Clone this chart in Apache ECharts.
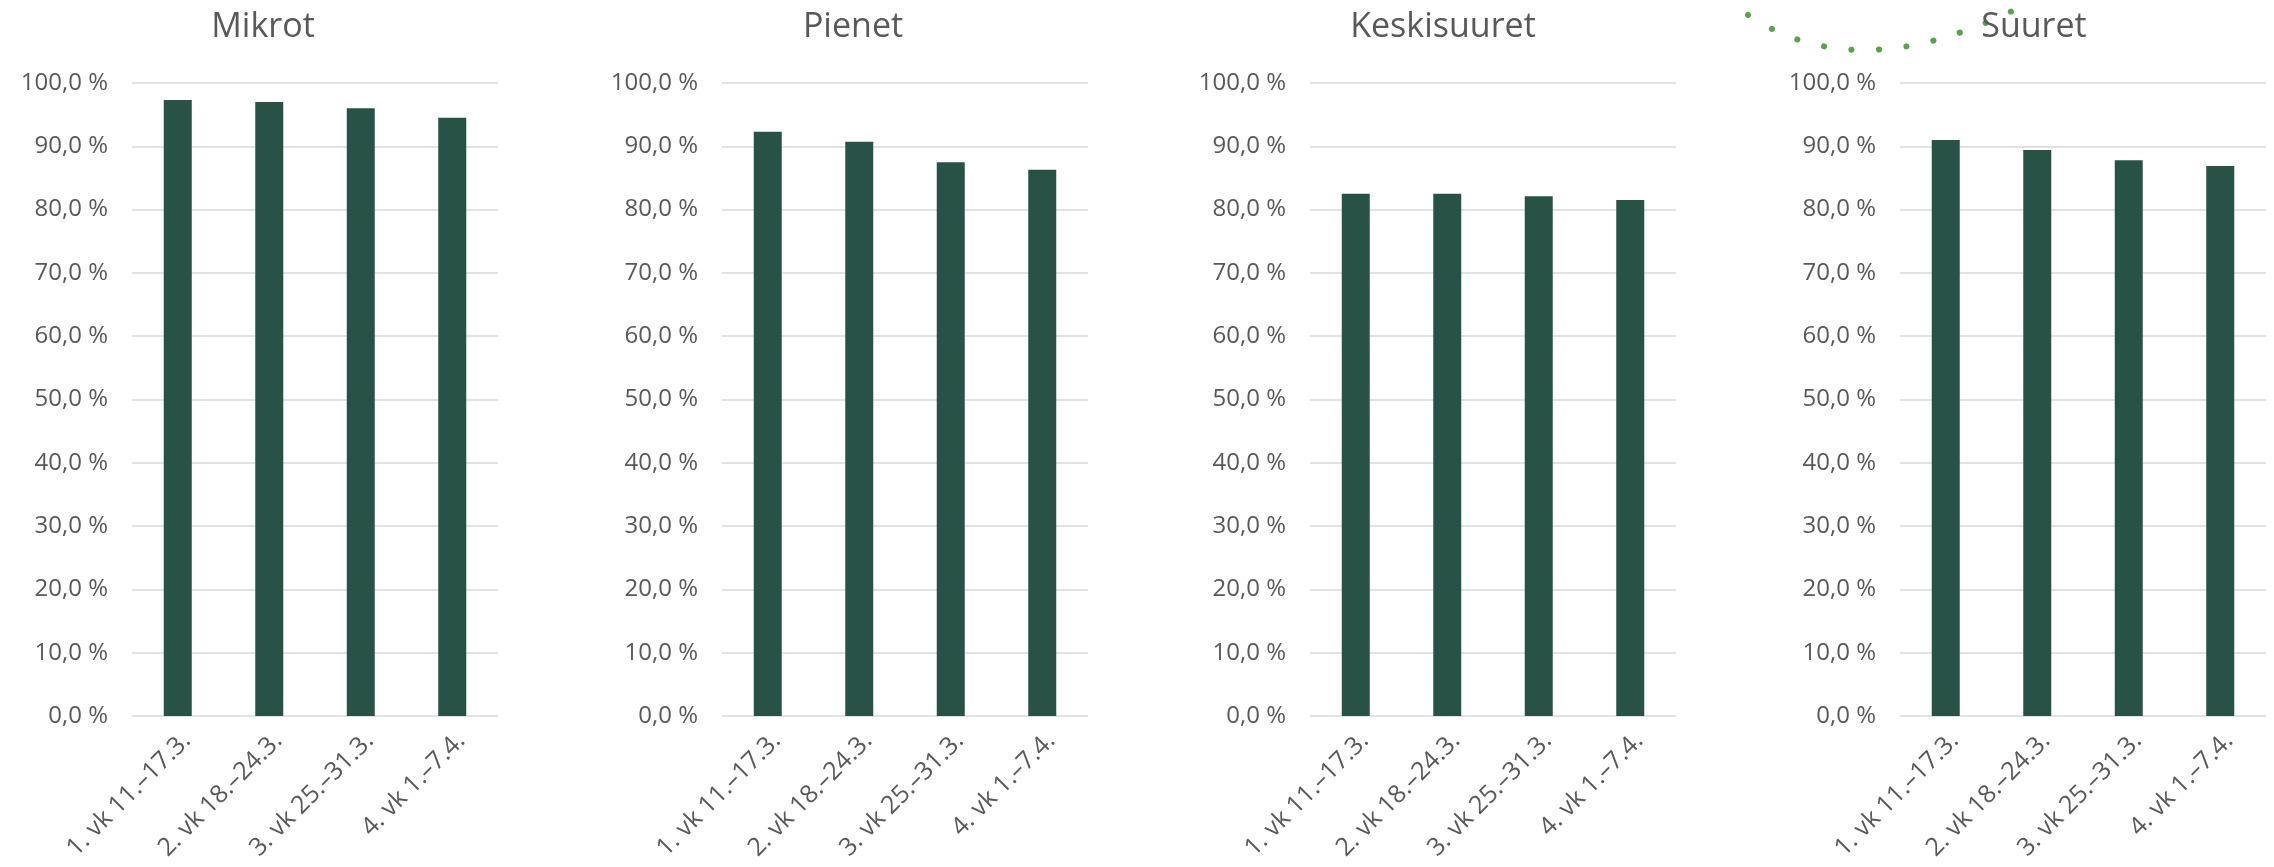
<!DOCTYPE html>
<html>
<head>
<meta charset="utf-8">
<script src="https://cdn.jsdelivr.net/npm/echarts@6/dist/echarts.min.js"></script>
<style>
html, body { margin: 0; padding: 0; background: #fff; }
#main { width: 2274px; height: 867px; }
</style>
</head>
<body>
<div id="main"></div>
<script>
// data
var categories = ['1. vk 11.–17.3.', '2. vk 18.–24.3.', '3. vk 25.–31.3.', '4. vk 1.–7.4.'];
var titles = ['Mikrot', 'Pienet', 'Keskisuuret', 'Suuret'];
var mikrot = [97.3, 97.0, 96.0, 94.5];
var pienet = [92.3, 90.7, 87.5, 86.3];
var keskisuuret = [82.5, 82.5, 82.1, 81.5];
var suuret = [91.0, 89.4, 87.8, 86.9];
var seriesData = [mikrot, pienet, keskisuuret, suuret];

// layout of the four small charts
var gridLeft = [132, 722, 1310, 1900];
var titleCenter = [263, 853, 1443, 2034];

var font = '"Open Sans", "Noto Sans", sans-serif';
var textColor = '#595959';

var myChart = echarts.init(document.getElementById('main'));

var option = {
  backgroundColor: '#fff',
  animation: false,
  title: [],
  grid: [],
  xAxis: [],
  yAxis: [],
  series: [],
  graphic: [{
    // green dotted arc above the last title
    type: 'bezierCurve',
    shape: { x1: 1748, y1: 15, x2: 2030, y2: 2, cpx1: 1861, cpy1: 91 },
    style: { stroke: '#5aa04e', fill: null, lineWidth: 6, lineCap: 'round', lineDash: [0.1, 27.5] },
    silent: true
  }]
};

for (var i = 0; i < 4; i++) {
  option.title.push({
    text: titles[i],
    left: titleCenter[i],
    top: 10,
    padding: 0,
    textAlign: 'center',
    textVerticalAlign: 'top',
    textStyle: { color: textColor, fontFamily: font, fontSize: 34, fontWeight: 'normal' }
  });
  option.grid.push({ left: gridLeft[i], width: 366, top: 83, height: 633 });
  option.xAxis.push({
    type: 'category',
    gridIndex: i,
    data: categories,
    axisLine: { show: false },
    axisTick: { show: false },
    axisLabel: {
      rotate: 45,
      margin: 12,
      interval: 0,
      verticalAlign: 'top',
      color: textColor,
      fontFamily: font,
      fontSize: 25
    }
  });
  option.yAxis.push({
    type: 'value',
    gridIndex: i,
    min: 0,
    max: 100,
    interval: 10,
    axisLine: { show: false },
    axisTick: { show: false },
    axisLabel: {
      margin: 24,
      color: textColor,
      fontFamily: font,
      fontSize: 24,
      formatter: function (v) { return v.toFixed(1).replace('.', ',') + '\u00a0%'; }
    },
    splitLine: { show: true, lineStyle: { color: '#d9d9d9', width: 1.5 } }
  });
  option.series.push({
    type: 'bar',
    name: titles[i],
    xAxisIndex: i,
    yAxisIndex: i,
    barWidth: 28,
    itemStyle: { color: '#285245' },
    data: seriesData[i]
  });
}

myChart.setOption(option);
</script>
</body>
</html>
